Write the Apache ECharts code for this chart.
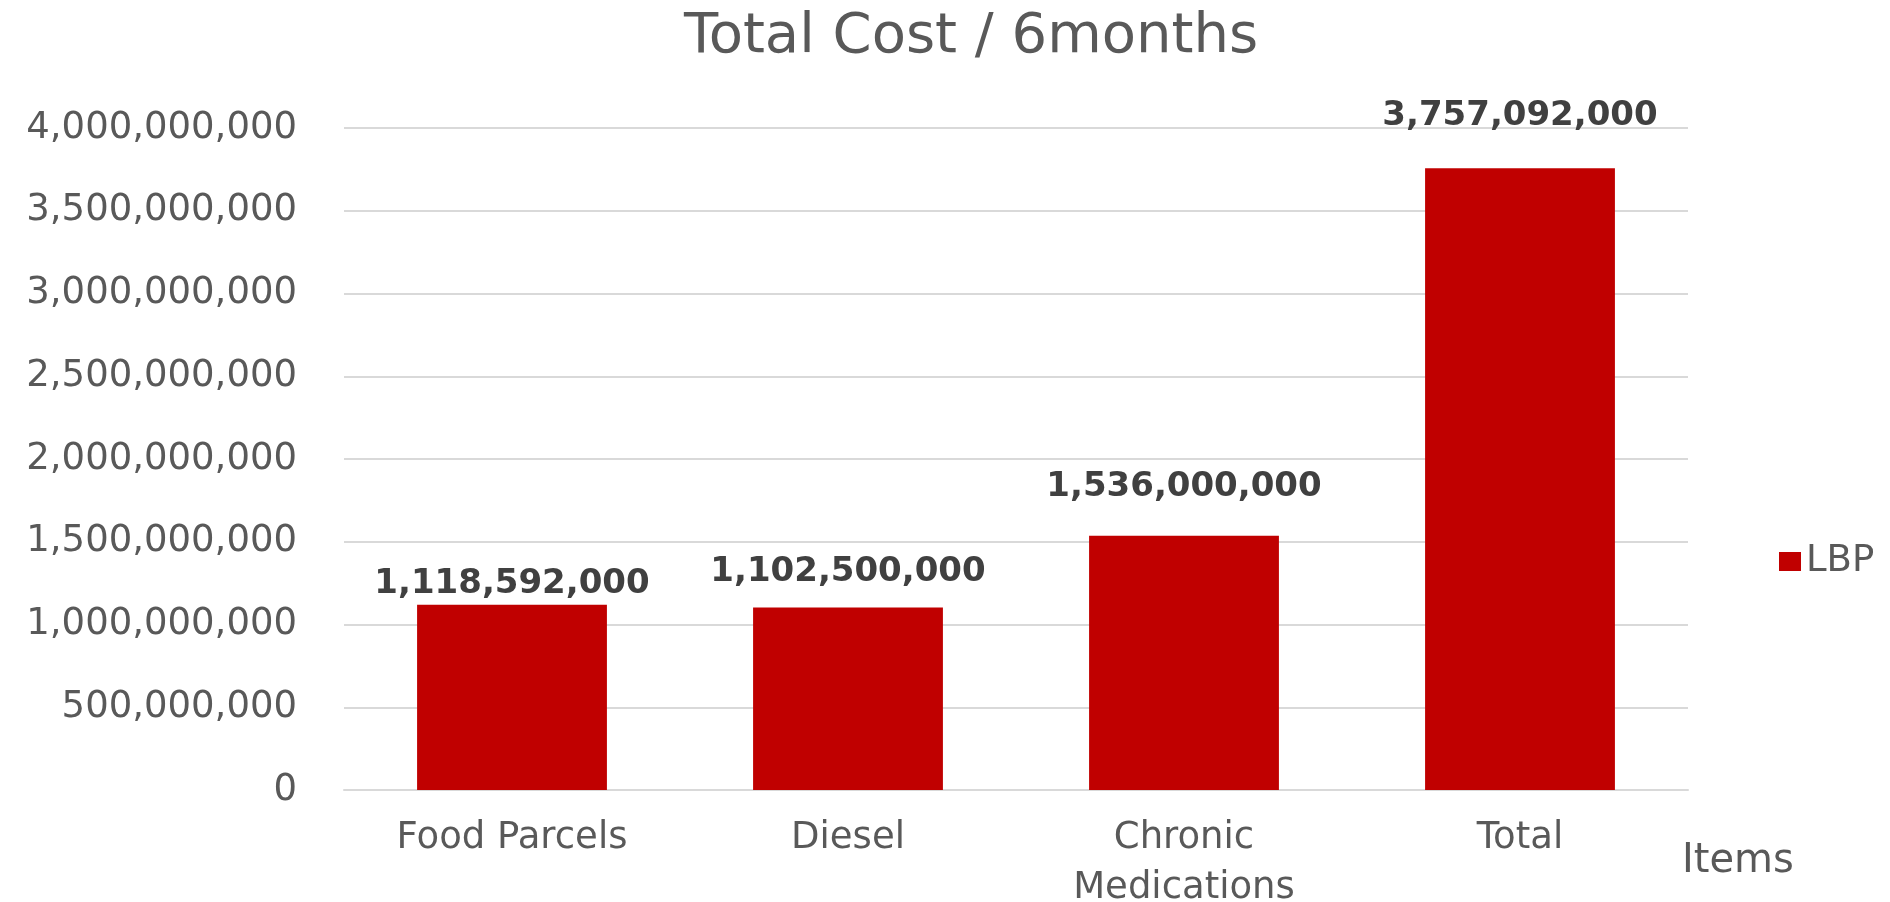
<!DOCTYPE html>
<html><head><meta charset="utf-8">
<script src="https://cdn.jsdelivr.net/npm/echarts@6/dist/echarts.min.js"></script>
<style>html,body{margin:0;padding:0;background:#fff}#c{width:1890px;height:902px}</style>
</head><body><div id="c"></div>
<script>
const categories = ['Food Parcels', 'Diesel', 'Chronic\nMedications', 'Total'];
const values = [1118592000, 1102500000, 1536000000, 3757092000];
const seriesName = 'LBP';
const titleText = 'Total Cost / 6months';
const axisName = 'Items';

// label styling: gap between each bar top and its value label (px)
const labelGaps = [4, 18, 32, 35];

const fmt = v => String(v).replace(/\B(?=(\d{3})+(?!\d))/g, ',');
const chart = echarts.init(document.getElementById('c'));
chart.setOption({
  backgroundColor: '#fff',
  animation: false,
  title: { text: titleText, left: 966, top: 4, textAlign: 'center',
    textStyle: { fontFamily: 'DejaVu Sans', fontWeight: 'normal', fontSize: 56, color: '#595959' } },
  legend: { data: [seriesName], left: 1774, top: 538, itemWidth: 22, itemHeight: 19, itemGap: 6,
    icon: 'rect', textStyle: { fontFamily: 'DejaVu Sans', fontSize: 37, color: '#595959' } },
  grid: { left: 344, right: 1890 - 1688, top: 128, bottom: 902 - 790, containLabel: false, outerBoundsMode: 'none' },
  xAxis: { type: 'category', data: categories,
    axisLine: { show: true, lineStyle: { color: '#d9d9d9', width: 2 } }, axisTick: { show: false },
    axisLabel: { fontFamily: 'DejaVu Sans', fontSize: 37, color: '#595959', margin: 23, lineHeight: 50, interval: 0 },
    name: axisName, nameLocation: 'end', nameGap: -6,
    nameTextStyle: { fontFamily: 'DejaVu Sans', fontSize: 40, color: '#595959', verticalAlign: 'top', align: 'left', padding: [52, 0, 0, 0] } },
  yAxis: { type: 'value', min: 0, max: 4000000000, interval: 500000000,
    axisLine: { show: false }, axisTick: { show: false },
    splitLine: { lineStyle: { color: '#d9d9d9', width: 2 } },
    axisLabel: { fontFamily: 'DejaVu Sans', fontSize: 37, color: '#595959', margin: 47, formatter: fmt } },
  series: [{ name: seriesName, type: 'bar', barWidth: '56.5%',
    data: values.map((v, i) => ({ value: v, label: { distance: labelGaps[i] } })),
    itemStyle: { color: '#C00000' },
    label: { show: true, position: 'top', distance: 4, formatter: p => fmt(p.value),
      fontFamily: 'DejaVu Sans', fontWeight: 'bold', fontSize: 34, color: '#404040' } }]
});
</script></body></html>
